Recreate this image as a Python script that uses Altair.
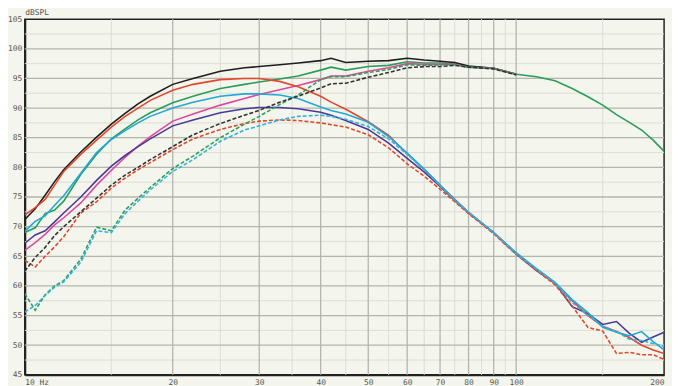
import altair as alt
import pandas as pd

FREQ = [10, 10.5, 11, 11.5, 12, 13, 14, 15, 16, 17, 18, 20, 22, 25, 28, 30, 33, 36, 40, 42,
        45, 50, 55, 60, 65, 70, 75, 80, 90, 100, 110, 120, 130, 140, 150, 160, 170, 180, 190, 200]

# high-pass style curves (end at 100 Hz, except green which continues to 200 Hz)
BLACK = [71.2, 73.0, 75.3, 77.6, 79.6, 82.6, 85.1, 87.3, 89.1, 90.7, 92.0, 94.0, 95.0, 96.2, 96.8, 97.0,
         97.3, 97.6, 98.0, 98.4, 97.7, 97.9, 98.0, 98.4, 98.1, 97.9, 97.7, 97.1, 96.7, 95.7]
GREEN = [69.0, 69.8, 72.2, 72.8, 74.3, 78.8, 82.2, 84.8, 86.5, 88.0, 89.2, 90.9, 92.0, 93.3, 94.0, 94.4,
         94.9, 95.4, 96.4, 96.9, 96.4, 97.0, 97.2, 97.8, 97.6, 97.6, 97.5, 97.0, 96.7, 95.7, 95.3, 94.6,
         93.3, 91.9, 90.5, 88.9, 87.6, 86.3, 84.6, 82.7]
MAGENTA = [66.0, 67.3, 68.7, 70.3, 71.5, 74.0, 77.0, 79.5, 81.7, 83.6, 85.2, 87.8, 89.0, 90.5, 91.6, 92.3,
           93.1, 93.8, 94.8, 95.4, 95.4, 96.2, 96.8, 97.5, 97.4, 97.4, 97.4, 96.9, 96.7, 95.7]
BLACK_DASH = [62.5, 64.8, 66.5, 68.5, 70.0, 72.5, 74.8, 77.0, 78.7, 80.0, 81.3, 83.5, 85.5, 87.4, 88.8, 89.6,
              91.0, 92.0, 93.4, 94.1, 94.2, 95.2, 96.0, 96.8, 97.0, 97.0, 97.2, 96.9, 96.6, 95.6]
GREEN_DASH = [58.7, 55.9, 58.5, 60.0, 60.9, 64.5, 69.9, 69.3, 72.8, 74.8, 76.6, 79.8, 81.9, 85.0, 87.3, 88.6,
              90.6, 92.2, 94.8, 95.3, 95.3, 96.0, 96.5, 97.3, 97.2, 97.3, 97.3, 96.9, 96.7, 95.7]

# band-pass style curves (full range)
RED = [72.0, 73.2, 74.6, 77.0, 79.3, 82.2, 84.6, 86.8, 88.6, 90.0, 91.3, 93.0, 94.0, 94.8, 95.0, 95.0,
       94.5, 93.6, 92.0, 91.0, 89.8, 87.7, 85.4, 82.3, 79.6, 77.0, 74.6, 72.4, 69.0, 65.5, 62.7, 60.4,
       57.5, 55.0, 53.2, 52.3, 51.3, 50.0, 49.2, 48.6]
CYAN = [69.2, 70.9, 71.8, 73.6, 75.2, 79.0, 82.5, 84.7, 86.2, 87.5, 88.6, 90.0, 91.0, 92.0, 92.4, 92.4,
        92.2, 91.6, 90.2, 89.6, 89.0, 87.6, 85.2, 82.4, 79.7, 77.0, 74.5, 72.4, 69.0, 65.6, 62.9, 60.6,
        57.7, 55.5, 53.0, 52.2, 51.6, 52.3, 50.6, 49.2]
PURPLE = [67.2, 68.6, 69.3, 70.8, 72.3, 75.0, 77.8, 80.2, 82.0, 83.5, 84.8, 87.0, 88.0, 89.2, 89.9, 90.1,
          90.1, 89.9, 89.3, 88.8, 87.9, 86.4, 84.1, 81.5, 79.2, 76.8, 74.4, 72.3, 69.0, 65.4, 62.6, 60.5,
          56.5, 55.3, 53.5, 54.0, 52.0, 50.5, 51.4, 52.2]
RED_DASH = [64.3, 63.2, 65.0, 66.6, 68.3, 72.3, 74.2, 76.5, 78.2, 79.6, 80.8, 83.0, 84.8, 86.4, 87.4, 87.8,
            88.0, 87.9, 87.5, 87.2, 86.8, 85.5, 83.3, 80.6, 78.5, 76.3, 74.2, 72.2, 68.8, 65.3, 62.6, 60.2,
            56.6, 53.0, 52.4, 48.6, 48.8, 48.4, 48.4, 47.6]
CYAN_DASH = [55.6, 56.7, 58.4, 59.8, 60.7, 64.0, 69.3, 69.0, 72.2, 74.3, 76.2, 79.3, 81.3, 84.4, 86.3, 87.0,
             88.0, 88.6, 88.8, 88.6, 88.1, 86.9, 84.8, 82.2, 79.6, 76.9, 74.5, 72.4, 69.0, 65.4, 62.8, 60.5,
             57.2, 55.0, 53.2, 52.3, 51.0, 50.8, 50.3, 49.8]

X_MAJOR = [20, 30, 40, 50, 60, 70, 80, 90, 100]
X_MINOR = [15, 25, 35, 45, 55, 65, 75, 85, 95, 150]
Y_MAJOR = [50, 55, 60, 65, 70, 75, 80, 85, 90, 95, 100]
Y_MINOR = [47.5, 52.5, 57.5, 62.5, 67.5, 72.5, 77.5, 82.5, 87.5, 92.5, 97.5, 102.5]
X_TICKS = [10, 20, 30, 40, 50, 60, 70, 80, 90, 100, 200]
Y_TICKS = [45, 50, 55, 60, 65, 70, 75, 80, 85, 90, 95, 100, 105]

# draw order: first drawn is at the bottom
SERIES = [
    ("green", GREEN, "#2a9d5c", None),
    ("black", BLACK, "#1e1e1e", None),
    ("magenta", MAGENTA, "#e0489c", None),
    ("purple", PURPLE, "#4a3a98", None),
    ("red", RED, "#e2482c", None),
    ("cyan", CYAN, "#22a8d8", None),
    ("red_dash", RED_DASH, "#e2482c", [4, 2]),
    ("green_dash", GREEN_DASH, "#2f9f60", [4, 2]),
    ("cyan_dash", CYAN_DASH, "#34b2dc", [4, 2]),
    ("black_dash", BLACK_DASH, "#333333", [4, 2]),
]

rows = []
for name, vals, _, _ in SERIES:
    for f, v in zip(FREQ, vals):
        rows.append({"s": name, "f": f, "db": v})
df = pd.DataFrame(rows)

FONT = "DejaVu Sans Mono"
xscale = alt.Scale(type="log", domain=[10, 200], nice=False)
yscale = alt.Scale(domain=[45, 105], nice=False, zero=False)

xaxis = alt.Axis(values=X_TICKS, format="d", grid=False, ticks=False, title=None,
                 labelExpr="datum.value == 10 ? '10  Hz' : datum.label",
                 labelFont=FONT, labelFontSize=8, labelColor="#555555", labelPadding=4,
                 labelFlush=True, domainColor="#222222", domainWidth=2)
yaxis = alt.Axis(values=Y_TICKS, grid=False, ticks=False, title="dBSPL", titleAngle=0,
                 titleAlign="left", titleBaseline="bottom", titleX=0, titleY=-3,
                 titleFont=FONT, titleFontSize=8, titleFontWeight="normal", titleColor="#555555",
                 labelFont=FONT, labelFontSize=8, labelColor="#555555", labelPadding=3,
                 domainColor="#222222", domainWidth=2)

base = alt.Chart(df)

def rules_x(vals, color, width):
    return alt.Chart(pd.DataFrame({"f": vals})).mark_rule(color=color, strokeWidth=width).encode(
        x=alt.X("f:Q", scale=xscale, axis=xaxis))

def rules_y(vals, color, width):
    return alt.Chart(pd.DataFrame({"db": vals})).mark_rule(color=color, strokeWidth=width).encode(
        y=alt.Y("db:Q", scale=yscale, axis=yaxis))

layers = [
    rules_x(X_MINOR, "#dcddd4", 1),
    rules_y(Y_MINOR, "#dcddd4", 1),
    rules_x(X_MAJOR, "#b4b5ad", 1.3),
    rules_y(Y_MAJOR, "#b4b5ad", 1.3),
]
for name, _, color, dash in SERIES:
    kw = dict(color=color, strokeWidth=1.6, clip=True)
    if dash:
        kw["strokeDash"] = dash
    layers.append(
        base.transform_filter(alt.datum.s == name).mark_line(**kw).encode(
            x=alt.X("f:Q", scale=xscale, axis=xaxis),
            y=alt.Y("db:Q", scale=yscale, axis=yaxis),
        )
    )

chart = alt.layer(*layers).properties(
    width=647, height=360,
    padding={"left": 17, "top": 9, "right": 8, "bottom": 10},
    autosize=alt.AutoSizeParams(type="none"),
    background="#f4f5ec",
).configure_view(stroke="#222222", strokeWidth=1.5, fill="#f4f5ec")

chart.save("out.html", embed_options={"renderer": "svg", "actions": False})
